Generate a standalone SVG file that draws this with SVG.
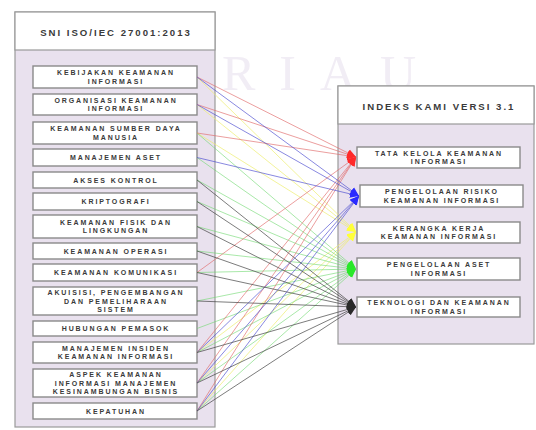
<svg xmlns="http://www.w3.org/2000/svg" width="536" height="430" viewBox="0 0 536 430">
<style>
.cont{fill:#e9e1ee;stroke:#9a9a9a;stroke-width:1.2}
.head{fill:#ffffff;stroke:#9a9a9a;stroke-width:1.2}
.box{fill:#ffffff;stroke:#8a8a8a;stroke-width:1.4}
.t{font-family:"Liberation Sans",Arial,sans-serif;font-weight:bold;font-size:7px;letter-spacing:1.9px;fill:#3a3a3a;text-anchor:middle}
.h{font-family:"Liberation Sans",Arial,sans-serif;font-weight:bold;font-size:9.6px;letter-spacing:2px;fill:#3a3a3a;text-anchor:middle}
.wm{font-family:"Liberation Serif","Times New Roman",serif;font-size:50px;letter-spacing:24px;fill:#d9cce3;opacity:0.35}
.c line{stroke-width:1;fill:none}
.r{stroke:#e06a6a;stroke-opacity:0.65}
.b{stroke:#4a4ad0;stroke-opacity:0.65}
.y{stroke:#eeee70;stroke-opacity:0.7}
.g{stroke:#70d870;stroke-opacity:0.6}
.k{stroke:#454545;stroke-opacity:0.7}
</style>
<defs>
<marker id="mr" markerUnits="userSpaceOnUse" markerWidth="10" markerHeight="10" refX="9" refY="5" orient="auto"><path d="M0,1 L9,5 L0,9 z" fill="#ff2a2a"/></marker>
<marker id="mb" markerUnits="userSpaceOnUse" markerWidth="10" markerHeight="10" refX="9" refY="5" orient="auto"><path d="M0,1 L9,5 L0,9 z" fill="#2a2aff"/></marker>
<marker id="my" markerUnits="userSpaceOnUse" markerWidth="10" markerHeight="10" refX="9" refY="5" orient="auto"><path d="M0,1 L9,5 L0,9 z" fill="#ffff3a"/></marker>
<marker id="mg" markerUnits="userSpaceOnUse" markerWidth="10" markerHeight="10" refX="9" refY="5" orient="auto"><path d="M0,1 L9,5 L0,9 z" fill="#2ae82a"/></marker>
<marker id="mk" markerUnits="userSpaceOnUse" markerWidth="10" markerHeight="10" refX="9" refY="5" orient="auto"><path d="M0,1 L9,5 L0,9 z" fill="#2a2a2a"/></marker>
</defs>
<rect x="0" y="0" width="536" height="430" fill="#ffffff"/>

<text class="wm" x="222" y="90">RIAU</text>

<g id="left-container">
<rect class="cont" x="15" y="12" width="200" height="415"/>
<rect class="head" x="15" y="12" width="200" height="38"/>
<text class="h" x="116" y="36">SNI ISO/IEC 27001:2013</text>
</g>

<g id="right-container">
<rect class="cont" x="338" y="86" width="196" height="258"/>
<rect class="head" x="338" y="86" width="196" height="38"/>
<text class="h" x="439" y="110">INDEKS KAMI VERSI 3.1</text>
</g>

<g id="s1"><rect class="box" x="33" y="66" width="164" height="22"/><text class="t" x="116" y="75.25">KEBIJAKAN KEAMANAN</text><text class="t" x="116" y="83.75">INFORMASI</text></g>
<g id="s2"><rect class="box" x="33" y="94" width="164" height="21"/><text class="t" x="116" y="102.75">ORGANISASI KEAMANAN</text><text class="t" x="116" y="111.25">INFORMASI</text></g>
<g id="s3"><rect class="box" x="33" y="122" width="164" height="22"/><text class="t" x="116" y="131.25">KEAMANAN SUMBER DAYA</text><text class="t" x="116" y="139.75">MANUSIA</text></g>
<g id="s4"><rect class="box" x="33" y="149" width="164" height="17"/><text class="t" x="116" y="160">MANAJEMEN ASET</text></g>
<g id="s5"><rect class="box" x="33" y="172" width="164" height="16"/><text class="t" x="116" y="182.5">AKSES KONTROL</text></g>
<g id="s6"><rect class="box" x="33" y="193" width="164" height="17"/><text class="t" x="116" y="204">KRIPTOGRAFI</text></g>
<g id="s7"><rect class="box" x="33" y="215" width="164" height="23"/><text class="t" x="116" y="224.75">KEAMANAN FISIK DAN</text><text class="t" x="116" y="233.25">LINGKUNGAN</text></g>
<g id="s8"><rect class="box" x="33" y="243" width="164" height="16"/><text class="t" x="116" y="253.5">KEAMANAN OPERASI</text></g>
<g id="s9"><rect class="box" x="33" y="264" width="164" height="17"/><text class="t" x="116" y="275">KEAMANAN KOMUNIKASI</text></g>
<g id="s10"><rect class="box" x="33" y="287" width="164" height="28"/><text class="t" x="116" y="295">AKUISISI, PENGEMBANGAN</text><text class="t" x="116" y="303.5">DAN PEMELIHARAAN</text><text class="t" x="116" y="312">SISTEM</text></g>
<g id="s11"><rect class="box" x="33" y="321" width="164" height="15"/><text class="t" x="116" y="331">HUBUNGAN PEMASOK</text></g>
<g id="s12"><rect class="box" x="33" y="342" width="164" height="21"/><text class="t" x="116" y="350.75">MANAJEMEN INSIDEN</text><text class="t" x="116" y="359.25">KEAMANAN INFORMASI</text></g>
<g id="s13"><rect class="box" x="33" y="369" width="164" height="28"/><text class="t" x="116" y="377">ASPEK KEAMANAN</text><text class="t" x="116" y="385.5">INFORMASI MANAJEMEN</text><text class="t" x="116" y="394">KESINAMBUNGAN BISNIS</text></g>
<g id="s14"><rect class="box" x="33" y="403" width="164" height="16"/><text class="t" x="116" y="413.5">KEPATUHAN</text></g>

<g id="t1"><rect class="box" x="357" y="147" width="163" height="21"/><text class="t" x="439" y="155.75">TATA KELOLA KEAMANAN</text><text class="t" x="439" y="164.25">INFORMASI</text></g>
<g id="t2"><rect class="box" x="360" y="185" width="163" height="22"/><text class="t" x="442" y="194.25">PENGELOLAAN RISIKO</text><text class="t" x="442" y="202.75">KEAMANAN INFORMASI</text></g>
<g id="t3"><rect class="box" x="357" y="222" width="163" height="21"/><text class="t" x="439" y="230.75">KERANGKA KERJA</text><text class="t" x="439" y="239.25">KEAMANAN INFORMASI</text></g>
<g id="t4"><rect class="box" x="357" y="258" width="163" height="22"/><text class="t" x="439" y="267.25">PENGELOLAAN ASET</text><text class="t" x="439" y="275.75">INFORMASI</text></g>
<g id="t5"><rect class="box" x="357" y="297" width="163" height="20"/><text class="t" x="439" y="305.25">TEKNOLOGI DAN KEAMANAN</text><text class="t" x="439" y="313.75">INFORMASI</text></g>

<g id="connectors" class="c">
<line class="y" x1="197" y1="77" x2="356" y2="232" marker-end="url(#my)"/>
<line class="y" x1="197" y1="104.5" x2="356" y2="232" marker-end="url(#my)"/>
<line class="y" x1="197" y1="133" x2="356" y2="232" marker-end="url(#my)"/>
<line class="y" x1="197" y1="352.5" x2="356" y2="232" marker-end="url(#my)"/>
<line class="y" x1="197" y1="383" x2="356" y2="232" marker-end="url(#my)"/>
<line class="y" x1="197" y1="411" x2="356" y2="232" marker-end="url(#my)"/>
<line class="g" x1="197" y1="133" x2="356" y2="269" marker-end="url(#mg)"/>
<line class="g" x1="197" y1="157.5" x2="356" y2="269" marker-end="url(#mg)"/>
<line class="g" x1="197" y1="180" x2="356" y2="269" marker-end="url(#mg)"/>
<line class="g" x1="197" y1="201.5" x2="356" y2="269" marker-end="url(#mg)"/>
<line class="g" x1="197" y1="226.5" x2="356" y2="269" marker-end="url(#mg)"/>
<line class="g" x1="197" y1="251" x2="356" y2="269" marker-end="url(#mg)"/>
<line class="g" x1="197" y1="272.5" x2="356" y2="269" marker-end="url(#mg)"/>
<line class="g" x1="197" y1="301" x2="356" y2="269" marker-end="url(#mg)"/>
<line class="g" x1="197" y1="328.5" x2="356" y2="269" marker-end="url(#mg)"/>
<line class="g" x1="197" y1="352.5" x2="356" y2="269" marker-end="url(#mg)"/>
<line class="g" x1="197" y1="383" x2="356" y2="269" marker-end="url(#mg)"/>
<line class="g" x1="197" y1="411" x2="356" y2="269" marker-end="url(#mg)"/>
<line class="r" x1="197" y1="77" x2="356" y2="157" marker-end="url(#mr)"/>
<line class="r" x1="197" y1="104.5" x2="356" y2="157" marker-end="url(#mr)"/>
<line class="r" x1="197" y1="133" x2="356" y2="157" marker-end="url(#mr)"/>
<line class="r" x1="197" y1="272.5" x2="356" y2="157" marker-end="url(#mr)"/>
<line class="r" x1="197" y1="352.5" x2="356" y2="157" marker-end="url(#mr)"/>
<line class="r" x1="197" y1="383" x2="356" y2="157" marker-end="url(#mr)"/>
<line class="r" x1="197" y1="411" x2="356" y2="157" marker-end="url(#mr)"/>
<line class="b" x1="197" y1="77" x2="359" y2="196" marker-end="url(#mb)"/>
<line class="b" x1="197" y1="104.5" x2="359" y2="196" marker-end="url(#mb)"/>
<line class="b" x1="197" y1="157.5" x2="359" y2="196" marker-end="url(#mb)"/>
<line class="b" x1="197" y1="352.5" x2="359" y2="196" marker-end="url(#mb)"/>
<line class="b" x1="197" y1="383" x2="359" y2="196" marker-end="url(#mb)"/>
<line class="b" x1="197" y1="411" x2="359" y2="196" marker-end="url(#mb)"/>
<line class="k" x1="197" y1="180" x2="356" y2="307" marker-end="url(#mk)"/>
<line class="k" x1="197" y1="201.5" x2="356" y2="307" marker-end="url(#mk)"/>
<line class="k" x1="197" y1="226.5" x2="356" y2="307" marker-end="url(#mk)"/>
<line class="k" x1="197" y1="251" x2="356" y2="307" marker-end="url(#mk)"/>
<line class="k" x1="197" y1="272.5" x2="356" y2="307" marker-end="url(#mk)"/>
<line class="k" x1="197" y1="301" x2="356" y2="307" marker-end="url(#mk)"/>
<line class="k" x1="197" y1="352.5" x2="356" y2="307" marker-end="url(#mk)"/>
<line class="k" x1="197" y1="383" x2="356" y2="307" marker-end="url(#mk)"/>
<line class="k" x1="197" y1="411" x2="356" y2="307" marker-end="url(#mk)"/>
</g>
</svg>
